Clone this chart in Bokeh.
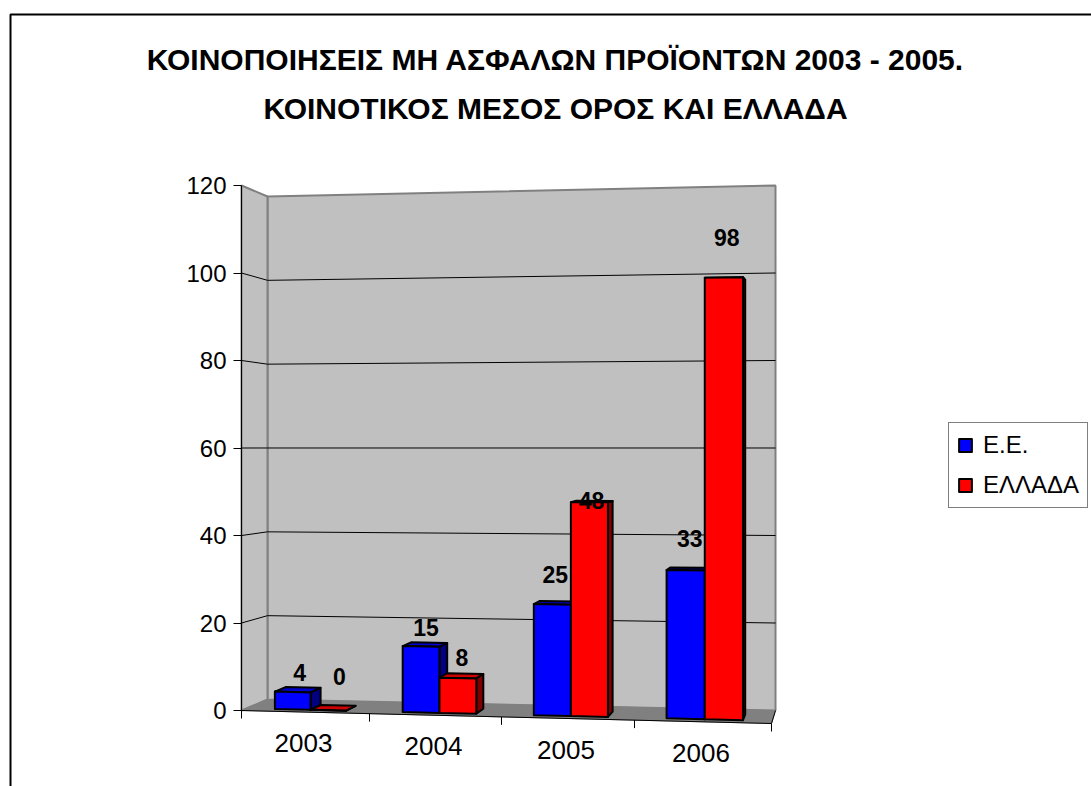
from bokeh.plotting import figure
from bokeh.embed import file_html
from bokeh.resources import INLINE
from bokeh.models import ColumnDataSource, Label, BoxAnnotation, Legend, LegendItem, FixedTicker, Range1d
from bokeh.core.properties import value
import numpy as np

# ---- data ----
TITLE_LINES = ["ΚΟΙΝΟΠΟΙΗΣΕΙΣ ΜΗ ΑΣΦΑΛΩΝ ΠΡΟΪΟΝΤΩΝ 2003 - 2005.",
               "ΚΟΙΝΟΤΙΚΟΣ ΜΕΣΟΣ ΟΡΟΣ ΚΑΙ ΕΛΛΑΔΑ"]
years = ["2003", "2004", "2005", "2006"]
ee = [4, 15, 25, 33]
ellada = [0, 8, 48, 98]
series_names = ["Ε.Ε.", "ΕΛΛΑΔΑ"]
y_ticks = [0, 20, 40, 60, 80, 100, 120]

# ---- layout of the 3-D box, in page pixels ----
FONT = "Liberation Sans"
AX_L, AX_B, PX_PER_VAL, PX_PER_CAT = 241.0, 710.0, 525 / 120, 132.5
TICK_W = [0, 128, 260, 393, 530]
D0, D1 = 0.2, 0.63
START, BW = 0.222, 0.281


def to_data(px, py):
    return (px - AX_L) / PX_PER_CAT, (AX_B - py) / PX_PER_VAL


def project(u, v, d):
    w = float(np.interp(u, [0, 1, 2, 3, 4], TICK_W)) / 530
    xf, xb = 241 + 530 * w, 267 + 508 * w
    yf = 710 + 13 * w - v * (4.375 + 0.195 * w)
    yb = 699 + 11 * w - v * (4.1917 + 0.1833 * w)
    return to_data(xf + (xb - xf) * d, yf + (yb - yf) * d)


def poly(pts):
    p3 = [project(*q) for q in pts]
    return [a for a, _ in p3], [b for _, b in p3]


W, H = 1091, 786
p = figure(width=W, height=H, output_backend="svg", toolbar_location=None,
           x_range=Range1d(to_data(0, 0)[0], to_data(W, 0)[0]),
           y_range=Range1d(to_data(0, H)[1], to_data(0, 0)[1]),
           x_axis_location=None, y_axis_location="left",
           min_border_left=0, min_border_right=0, min_border_top=0, min_border_bottom=0,
           background_fill_color="white", border_fill_color="white")
p.outline_line_color = None
p.grid.visible = False

ax = p.yaxis[0]
ax.fixed_location = 0
ax.ticker = FixedTicker(ticks=y_ticks)
ax.bounds = (0, 120)
ax.major_tick_out = 8
ax.major_tick_in = 0
ax.minor_tick_out = 0
ax.minor_tick_in = 0
ax.axis_line_color = "#000000"
ax.axis_line_width = 1
ax.major_tick_line_color = "#000000"
ax.major_label_text_font = FONT
ax.major_label_text_font_size = "24px"
ax.major_label_text_color = "#000000"
ax.major_label_standoff = 7
ax.level = "overlay"

# walls and floor
xs, ys = poly([(0, 0, 1), (4, 0, 1), (4, 120, 1), (0, 120, 1)])
p.patch(xs, ys, fill_color="#C0C0C0", line_color="#808080", line_width=2)
xs, ys = poly([(0, 0, 0), (0, 0, 1), (0, 120, 1), (0, 120, 0)])
p.patch(xs, ys, fill_color="#C0C0C0", line_color="#808080", line_width=2)
xs, ys = poly([(0, 0, 0), (4, 0, 0), (4, 0, 1), (0, 0, 1)])
p.patch(xs, ys, fill_color="#808080", line_color="#808080", line_width=1)

# gridlines
for t in y_ticks[1:-1]:
    xs, ys = poly([(0, t, 0), (0, t, 1), (4, t, 1)])
    p.line(xs, ys, line_color="#000000", line_width=1)

# floor front/right edge, category ticks
xs, ys = poly([(0, 0, 0), (4, 0, 0), (4, 0, 1)])
p.line(xs, ys, line_color="#000000", line_width=1)
tick_px = 8 / PX_PER_VAL
tx, ty = [], []
for i in range(5):
    a, b = project(i, 0, 0)
    tx.append([a, a])
    ty.append([b, b - tick_px])
p.multi_line(tx, ty, line_color="#000000", line_width=1)

# bars
legend_items = []
for s, (vals, name, front, top, side) in enumerate([
        (ee, series_names[0], "#0000FF", "#0000CC", "#000080"),
        (ellada, series_names[1], "#FF0000", "#CC0000", "#800000")]):
    fx, fy, tx, ty, sx, sy = [], [], [], [], [], []
    for i, v in enumerate(vals):
        u0 = i + START + s * BW
        u1 = u0 + BW
        a, b = poly([(u1, 0, D0), (u1, 0, D1), (u1, v, D1), (u1, v, D0)])
        sx.append(a); sy.append(b)
        a, b = poly([(u0, v, D0), (u1, v, D0), (u1, v, D1), (u0, v, D1)])
        tx.append(a); ty.append(b)
        a, b = poly([(u0, 0, D0), (u1, 0, D0), (u1, v, D0), (u0, v, D0)])
        fx.append(a); fy.append(b)
    p.patches(sx, sy, fill_color=side, line_color="#000000", line_width=2, line_join="round")
    p.patches(tx, ty, fill_color=top, line_color="#000000", line_width=2, line_join="round")
    r = p.patches(fx, fy, fill_color=front, line_color="#000000", line_width=2, line_join="round")
    legend_items.append(LegendItem(label=name, renderers=[r]))

# value labels: offsets from the front-top centre of each bar, in pixels
LABEL_DX = [[7, 5, 3, 4], [11, 4, 2, 3]]
LABEL_DY = [[-19, -19, -30, -32], [-34, -21, -2, -39.5]]
lx, ly, lt, ldx, ldy = [], [], [], [], []
for s, vals in enumerate([ee, ellada]):
    for i, v in enumerate(vals):
        a, b = project(i + START + s * BW + BW / 2, v, D0)
        lx.append(a); ly.append(b); lt.append(str(v))
        ldx.append(LABEL_DX[s][i]); ldy.append(LABEL_DY[s][i])
p.text("x", "y", "t", x_offset="dx", y_offset="dy",
       source=ColumnDataSource(dict(x=lx, y=ly, t=lt, dx=ldx, dy=ldy)),
       text_font=value(FONT), text_font_style="bold", text_font_size="23px",
       text_align="center", text_baseline="middle", text_color="#000000")

# category labels
cx, cy = [], []
for i in range(len(years)):
    a, b = project(i + 0.5, 0, 0)
    cx.append(a); cy.append(b)
p.text(cx, cy, years, x_offset=-2, y_offset=31,
       text_font=value(FONT), text_font_size="26px",
       text_align="center", text_baseline="middle", text_color="#000000")

# legend
leg = Legend(items=legend_items, location=(948, H - 508), orientation="vertical",
             border_line_color="#000000", border_line_width=1.5, background_fill_color="white",
             label_text_font=FONT, label_text_font_size="24px", label_text_color="#000000",
             glyph_width=16, glyph_height=16, label_height=20, spacing=12,
             padding=8, margin=0, label_standoff=10)
p.add_layout(leg, "center")

# outer frame
p.add_layout(BoxAnnotation(left=10, right=1110, top=14, bottom=810,
                           left_units="canvas", right_units="canvas",
                           top_units="canvas", bottom_units="canvas",
                           fill_color=None, line_color="#000000", line_alpha=1.0,
                           line_width=2, level="overlay"))

# title
for line, ypx in zip(TITLE_LINES, [59, 108]):
    p.add_layout(Label(x=555, y=ypx, x_units="canvas", y_units="canvas", text=line,
                       text_font=FONT, text_font_style="bold", text_font_size="30px",
                       text_align="center", text_baseline="middle", text_color="#000000"))

open("out.html", "w").write(file_html(p, INLINE))
